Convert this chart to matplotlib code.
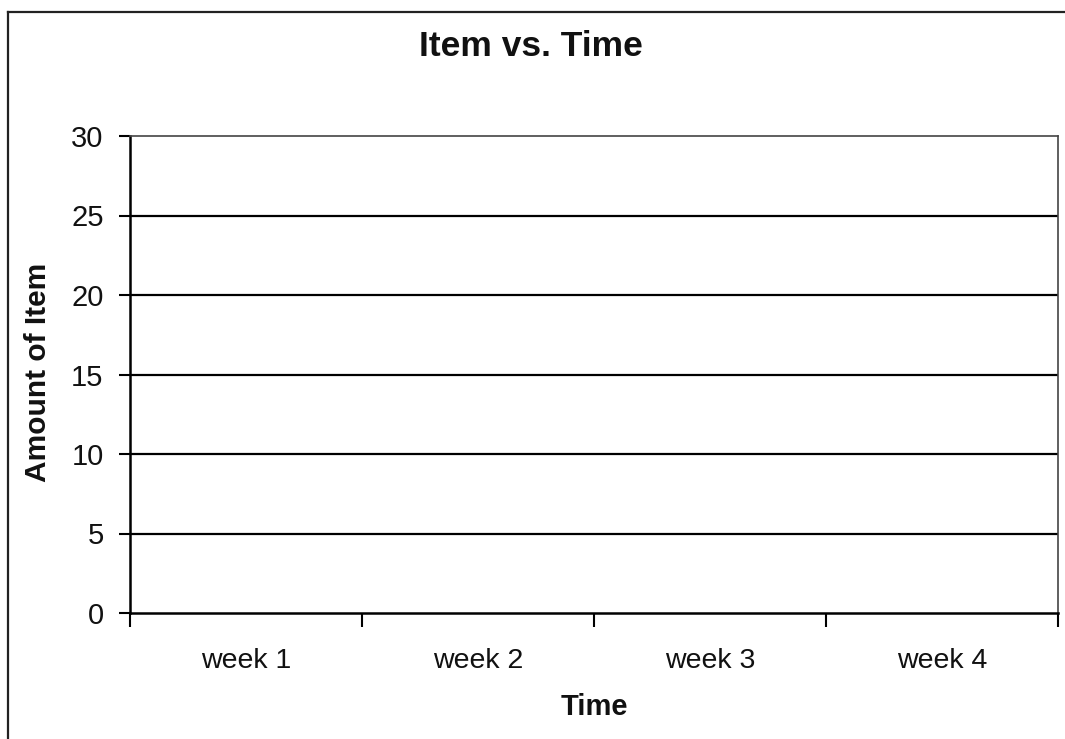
import matplotlib
matplotlib.use("Agg")
import matplotlib.pyplot as plt
from matplotlib.lines import Line2D

plt.rcParams['font.family'] = ['Liberation Sans', 'DejaVu Sans']

title = "Item vs. Time"
x_label = "Time"
y_label = "Amount of Item"
categories = ["week 1", "week 2", "week 3", "week 4"]
y_ticks = [0, 5, 10, 15, 20, 25, 30]

W, H = 1065, 739
fig = plt.figure(figsize=(W / 100, H / 100), dpi=100)
fig.patch.set_facecolor("white")

ax = fig.add_axes([130 / W, 1 - 613 / H, (1058 - 130) / W, (613 - 136) / H])
n = len(categories)
ax.set_xlim(0, n)
ax.set_ylim(y_ticks[0], y_ticks[-1])

# gridlines
for v in y_ticks[1:-1]:
    ax.axhline(v, color="black", lw=1.6, zorder=1)

ax.set_yticks(y_ticks)
ax.set_yticklabels([str(v) for v in y_ticks], fontsize=21, color="#111111")
ax.tick_params(axis="y", direction="out", length=8, width=1.5, pad=11, colors="black")
for lbl in ax.get_yticklabels():
    lbl.set_color("#111111")

ax.set_xticks(range(n + 1))
ax.set_xticklabels([""] * (n + 1))
ax.set_xticks([i + 0.5 for i in range(n)], minor=True)
ax.set_xticklabels(categories, minor=True, fontsize=20.5, color="#111111")
ax.tick_params(axis="x", which="major", direction="out", length=10, width=1.5, colors="black")
ax.tick_params(axis="x", which="minor", length=0, pad=25)

for s in ["left", "bottom"]:
    ax.spines[s].set_color("black")
    ax.spines[s].set_linewidth(1.8)
for s in ["top", "right"]:
    ax.spines[s].set_color("#444444")
    ax.spines[s].set_linewidth(1.2)

fig.text(531 / W, 1 - 46 / H, title, ha="center", va="center",
         fontsize=25.5, fontweight="bold", color="#111111")
fig.text(594 / W, 1 - 707 / H, x_label, ha="center", va="center",
         fontsize=21, fontweight="bold", color="#111111")
fig.text(38 / W, 1 - 372 / H, y_label, ha="center", va="center",
         rotation=90, fontsize=21.5, fontweight="bold", color="#111111")

# outer chart border (left and top visible)
fig.add_artist(Line2D([8 / W, 8 / W], [0, 1 - 12 / H], transform=fig.transFigure,
                      color="#222222", lw=1.6))
fig.add_artist(Line2D([8 / W, 1], [1 - 12 / H, 1 - 12 / H], transform=fig.transFigure,
                      color="#222222", lw=1.6))

fig.savefig("out.png", dpi=100, facecolor="white")
